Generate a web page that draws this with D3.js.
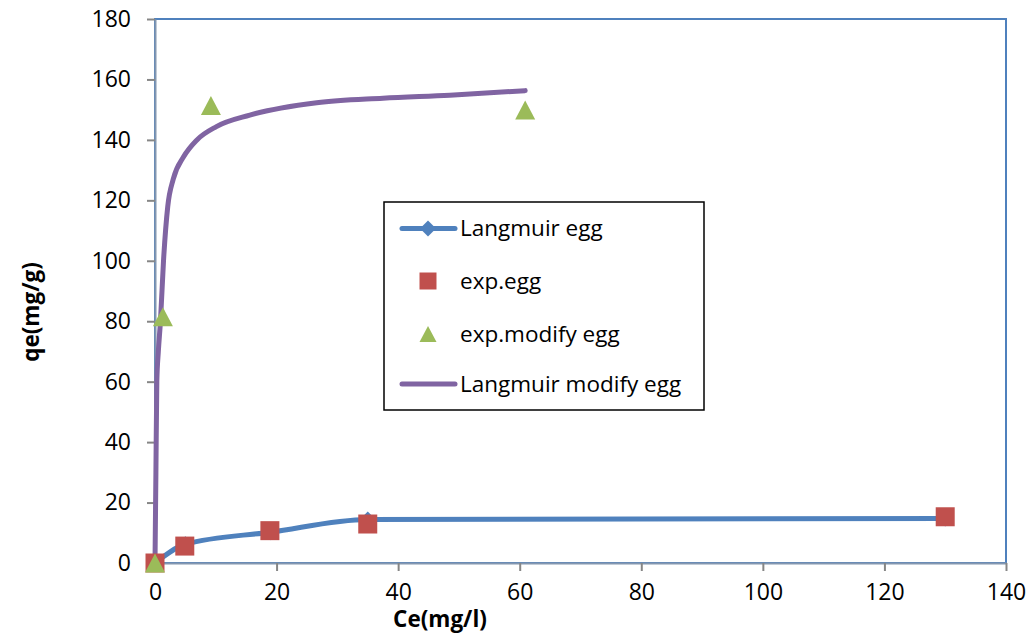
<!DOCTYPE html>
<html>
<head>
<meta charset="utf-8">
<script src="https://cdn.jsdelivr.net/npm/d3@7"></script>
<style>
  body { margin: 0; background: #fff; }
  text { font-family: "Open Sans", "Liberation Sans", sans-serif; fill: #000; }
</style>
</head>
<body>
<div id="chart"></div>
<script>
// Langmuir egg (fitted line with diamond markers)
const langEggCe = [0, 5, 19, 35, 130];
const langEggQe = [0, 6.2, 10.2, 14.4, 14.7];
// exp.egg (squares)
const expEggCe = [0, 4.9, 18.9, 35, 130];
const expEggQe = [0, 5.6, 10.7, 12.9, 15.3];
// exp.modify egg (triangles)
const expModCe = [0, 1.3, 9.2, 60.9];
const expModQe = [0, 81.5, 151.4, 149.9];
// Langmuir modify egg (fitted line)
const langModCe = [0, 0.15, 0.3, 0.55, 0.9, 1.4, 2.1, 3.0, 4.7, 6.9, 10.1, 15.6, 26.6, 37.5, 48.5, 60.9];
const langModQe = [0, 30, 60, 70, 80, 100, 118, 127, 134.4, 140, 144.4, 148.2, 152.3, 153.8, 154.8, 156.3];

const xTicks = [0, 20, 40, 60, 80, 100, 120, 140];
const yTicks = [0, 20, 40, 60, 80, 100, 120, 140, 160, 180];
const legendNames = ["Langmuir egg", "exp.egg", "exp.modify egg", "Langmuir modify egg"];

const blue = "#4f81bd", red = "#c0504d", green = "#9bbb59", purple = "#8064a2";

// set the dimensions and margins of the graph
var margin = {top: 19, right: 25, bottom: 74, left: 155},
    width = 1031 - margin.left - margin.right,
    height = 637 - margin.top - margin.bottom;

var x = d3.scaleLinear().domain([0, 140]).range([0, width]);
var y = d3.scaleLinear().domain([0, 180]).range([height, 0]);

var svg = d3.select("#chart").append("svg")
    .attr("width", 1031)
    .attr("height", 637);

var g = svg.append("g")
    .attr("transform", "translate(" + margin.left + "," + margin.top + ")");

// plot frame
g.append("rect")
    .attr("width", width).attr("height", height)
    .attr("fill", "none").attr("stroke", blue).attr("stroke-width", 2);

// Y axis
var yAxis = g.append("g")
    .call(d3.axisLeft(y).tickValues(yTicks).tickSize(8).tickSizeOuter(0).tickPadding(16));
// X axis
var xAxis = g.append("g")
    .attr("transform", "translate(0," + height + ")")
    .call(d3.axisBottom(x).tickValues(xTicks).tickSize(8).tickSizeOuter(0).tickPadding(17));

[xAxis, yAxis].forEach(function(a) {
    a.select(".domain").attr("stroke", "#8497b0").attr("stroke-width", 2);
    a.selectAll(".tick line").attr("stroke", "#868686").attr("stroke-width", 2);
    a.selectAll(".tick text").style("font-size", "23px").attr("font-family", null);
});
xAxis.selectAll(".tick text").attr("dy", "0.5em");

// axis titles
svg.append("text")
    .attr("x", 440).attr("y", 627)
    .attr("text-anchor", "middle")
    .style("font-size", "22.5px").style("font-weight", "bold")
    .text("Ce(mg/l)");
svg.append("text")
    .attr("transform", "translate(39,312) rotate(-90)")
    .attr("text-anchor", "middle")
    .style("font-size", "22.5px").style("font-weight", "bold")
    .text("qe(mg/g)");

function zip(a, b) { return a.map(function(v, i) { return [v, b[i]]; }); }

var line = d3.line()
    .x(function(d) { return x(d[0]); })
    .y(function(d) { return y(d[1]); })
    .curve(d3.curveMonotoneX);

var diamond = d3.symbol().type(d3.symbolSquare).size(128);
function squarePath(s) { return "M" + (-s/2) + "," + (-s/2) + "h" + s + "v" + s + "h" + (-s) + "Z"; }
function trianglePath(w, h) { return "M0," + (-h/2) + "L" + (w/2) + "," + (h/2) + "L" + (-w/2) + "," + (h/2) + "Z"; }

// Langmuir egg line + diamonds
g.append("path")
    .datum(zip(langEggCe, langEggQe))
    .attr("fill", "none").attr("stroke", blue).attr("stroke-width", 5)
    .attr("stroke-linecap", "round")
    .attr("d", line);
g.selectAll(".dia")
    .data(zip(langEggCe, langEggQe))
    .enter().append("path")
    .attr("transform", function(d) { return "translate(" + x(d[0]) + "," + y(d[1]) + ") rotate(45)"; })
    .attr("d", diamond).attr("fill", blue);

// Langmuir modify egg line
g.append("path")
    .datum(zip(langModCe, langModQe))
    .attr("fill", "none").attr("stroke", purple).attr("stroke-width", 5)
    .attr("stroke-linecap", "round")
    .attr("d", line);

// exp.egg squares
g.selectAll(".sq")
    .data(zip(expEggCe, expEggQe))
    .enter().append("path")
    .attr("transform", function(d) { return "translate(" + x(d[0]) + "," + y(d[1]) + ")"; })
    .attr("d", squarePath(19)).attr("fill", red);

// exp.modify egg triangles
g.selectAll(".tri")
    .data(zip(expModCe, expModQe))
    .enter().append("path")
    .attr("transform", function(d) { return "translate(" + x(d[0]) + "," + y(d[1]) + ")"; })
    .attr("d", trianglePath(20, 19)).attr("fill", green);

// legend
var leg = svg.append("g").attr("transform", "translate(384,202)");
leg.append("rect")
    .attr("width", 320).attr("height", 208)
    .attr("fill", "#fff").attr("stroke", "#000").attr("stroke-width", 1.5);
var rowsY = [26.5, 79, 132, 182];
legendNames.forEach(function(name, i) {
    var r = leg.append("g").attr("transform", "translate(0," + rowsY[i] + ")");
    if (i === 0 || i === 3) {
        r.append("line").attr("x1", 18).attr("x2", 71)
            .attr("stroke", i === 0 ? blue : purple).attr("stroke-width", 5)
            .attr("stroke-linecap", "round");
    }
    if (i === 0) r.append("path").attr("transform", "translate(44,0) rotate(45)").attr("d", diamond).attr("fill", blue);
    if (i === 1) r.append("path").attr("transform", "translate(44,0)").attr("d", squarePath(17)).attr("fill", red);
    if (i === 2) r.append("path").attr("transform", "translate(44,0)").attr("d", trianglePath(17, 16)).attr("fill", green);
    r.append("text").attr("x", 76).attr("dy", "0.35em")
        .style("font-size", "22.5px").text(name);
});
</script>
</body>
</html>
